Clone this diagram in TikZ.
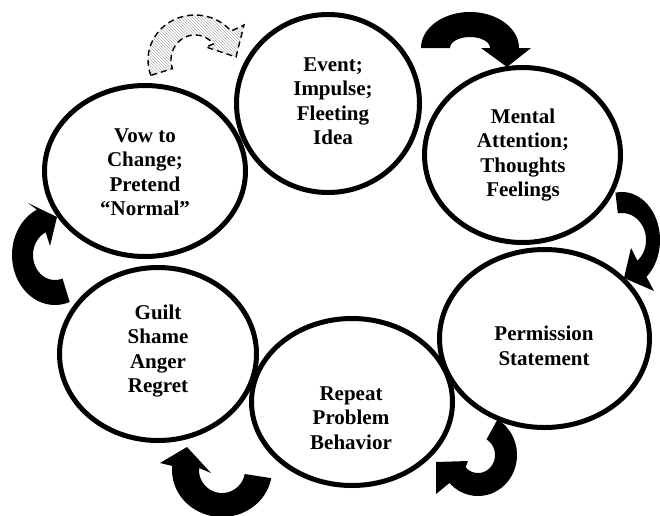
\documentclass[tikz,border=0pt]{standalone}
\usepackage{fontspec}
\setmainfont{Liberation Serif}
\usetikzlibrary{shapes.geometric,patterns}
\begin{document}
\begin{tikzpicture}[x=1pt,y=-1pt,samples=40,
  ring/.style={ellipse, draw=black, line width=5pt, fill=white, inner sep=0pt},
  txt/.style={align=center, font=\fontsize{21}{24.5}\selectfont\bfseries, inner sep=0pt},
  blk/.style={fill=black},
  ghost/.style={draw=black, dash pattern=on 6pt off 4pt, line width=1.4pt, pattern=north west lines, pattern color=gray!60}]
\useasboundingbox (0,0) rectangle (660,515);

% curved block arrows (drawn first, circles cover their roots)
\fill[blk] plot[domain=180:360] ({470+49*cos(\x)},{48+36*sin(\x)}) -- (531,48) -- (507,67) -- (481,48)
  -- plot[domain=360:180] ({470+20*cos(\x)},{48+11*sin(\x)}) -- cycle;
\fill[blk] plot[domain=-100:50] ({622+38*cos(\x)},{240+48*sin(\x)}) -- (654,291) -- (624,278) -- (631,248)
  -- plot[domain=50:-100] ({622+24*cos(\x)},{240+27*sin(\x)}) -- cycle;
\fill[blk] plot[domain=-60:137] ({478+39*cos(\x)},{455+41*sin(\x)}) -- (436,494) -- (436,462) -- (468,461)
  -- plot[domain=137:-60] ({478+17*cos(\x)},{455+18*sin(\x)}) -- cycle;
\fill[blk] plot[domain=10:185] ({222+50*cos(\x)},{470+47*sin(\x)}) -- (160,463) -- (187,447) -- (211,473)
  -- plot[domain=185:10] ({222+23*cos(\x)},{470+23*sin(\x)}) -- cycle;
\fill[blk] plot[domain=70:245] ({55+43*cos(\x)},{255+50*sin(\x)}) -- (28,203) -- (57,217) -- (50,246)
  -- plot[domain=245:70] ({55+22*cos(\x)},{255+25*sin(\x)}) -- cycle;
\draw[ghost] plot[domain=160:320] ({195+47*cos(\x)},{60+45*sin(\x)}) -- (244,25) -- (236,57) -- (206,47)
  -- plot[domain=320:160] ({195+24*cos(\x)},{60+25*sin(\x)}) -- cycle;

% circles
\node[ring, minimum width=201pt, minimum height=171pt] (vow) at (145,171) {};
\node[ring, minimum width=183pt, minimum height=178pt] (event) at (328,103.5) {};
\node[ring, minimum width=196pt, minimum height=175pt] (mental) at (522.5,155) {};
\node[ring, minimum width=210pt, minimum height=178pt] (perm) at (544.5,338.5) {};
\node[ring, minimum width=201pt, minimum height=167pt] (repeat) at (352,402) {};
\node[ring, minimum width=197pt, minimum height=173pt] (guilt) at (158,354) {};

% texts
\node[txt] (tevent) at (333,101) {Event;\\Impulse;\\Fleeting\\Idea};
\node[txt] (tmental) at (523,155) {Mental\\Attention;\\Thoughts\\Feelings};
\node[txt] (tperm) at (544,346) {Permission\\Statement};
\node[txt] (trepeat) at (351,418) {Repeat\\Problem\\Behavior};
\node[txt] (tguilt) at (158,351) {Guilt\\Shame\\Anger\\Regret};
\node[txt] (tvow) at (145,172) {Vow to\\Change;\\Pretend\\“Normal”};
\end{tikzpicture}
\end{document}
